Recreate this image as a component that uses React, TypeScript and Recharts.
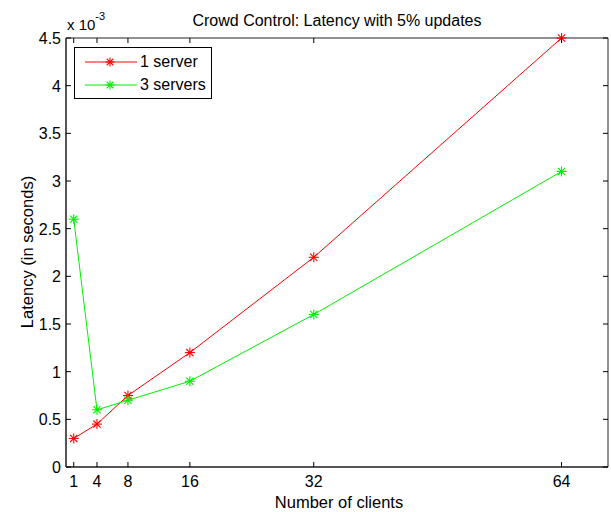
import React from 'react';
import { LineChart, Line, XAxis, YAxis, Legend } from 'recharts';

// Number of clients
const clients = [1, 4, 8, 16, 32, 64];
// Latency in units of 1e-3 seconds
const oneServer = [0.3, 0.45, 0.75, 1.2, 2.2, 4.5];
const threeServers = [2.6, 0.6, 0.7, 0.9, 1.6, 3.1];

const xTicks = [1, 4, 8, 16, 32, 64];
const yTicks = [0, 0.5, 1, 1.5, 2, 2.5, 3, 3.5, 4, 4.5];

const series = [
  { key: 'one', name: '1 server', color: '#ff0000' },
  { key: 'three', name: '3 servers', color: '#00ee00' },
];

const data = clients.map((c, i) => ({ clients: c, one: oneServer[i], three: threeServers[i] }));

const FONT = '"Liberation Sans", Arial, Helvetica, sans-serif';
const W = 611;
const H = 512;
const GAP_Y = 5;
const GAP_X = 8;
const TICK = 5;
// plot box size (chart minus margins and axis sizes)
const PLOT_W = 542;
const PLOT_H = 429;

function Asterisk({ cx, cy, color, r = 5 }: { cx: number; cy: number; color: string; r?: number }) {
  const d = r * 0.72;
  return (
    <g stroke={color} strokeWidth={1.1}>
      <line x1={cx - r} y1={cy} x2={cx + r} y2={cy} />
      <line x1={cx} y1={cy - r} x2={cx} y2={cy + r} />
      <line x1={cx - d} y1={cy - d} x2={cx + d} y2={cy + d} />
      <line x1={cx - d} y1={cy + d} x2={cx + d} y2={cy - d} />
    </g>
  );
}

// left labels + inward ticks on both sides
const LeftTick = (p: any) => {
  const edge = p.x + GAP_Y;
  return (
    <g>
      <line x1={edge} x2={edge + TICK} y1={p.y} y2={p.y} stroke="#000" />
      <line x1={edge + PLOT_W} x2={edge + PLOT_W - TICK} y1={p.y} y2={p.y} stroke="#000" />
      <text x={p.x} y={p.y} dy={6} textAnchor="end" fontSize={16} fontFamily={FONT} fill="#000">
        {String(p.payload.value)}
      </text>
    </g>
  );
};

// bottom labels + inward ticks on bottom and top
const BottomTick = (p: any) => {
  const edge = p.y - GAP_X;
  return (
    <g>
      <line x1={p.x} x2={p.x} y1={edge} y2={edge - TICK} stroke="#000" />
      <line x1={p.x} x2={p.x} y1={edge - PLOT_H} y2={edge - PLOT_H + TICK} stroke="#000" />
      <text x={p.x} y={p.y} dy={12} textAnchor="middle" fontSize={16} fontFamily={FONT} fill="#000">
        {String(p.payload.value)}
      </text>
    </g>
  );
};

const LegendBox = () => (
  <div
    style={{
      width: 136,
      height: 50,
      border: '1px solid #000',
      background: '#fff',
      fontFamily: FONT,
      fontSize: 16,
      position: 'relative',
    }}
  >
    {series.map((s, i) => (
      <div key={s.key} style={{ position: 'absolute', left: 0, top: 2 + i * 23, height: 24, display: 'flex', alignItems: 'center' }}>
        <svg width={64} height={24}>
          <line x1={10} x2={62} y1={12} y2={12} stroke={s.color} strokeWidth={1} />
          <Asterisk cx={35} cy={12} color={s.color} r={4.5} />
        </svg>
        <span style={{ color: '#000', marginLeft: 1 }}>{s.name}</span>
      </div>
    ))}
  </div>
);

export default function App() {
  return (
    <div style={{ position: 'absolute', left: 0, top: 0, width: W, height: H, background: '#fff' }}>
      <LineChart width={W} height={H} data={data} margin={{ top: 37, right: 2, left: 0, bottom: 0 }}>
        <XAxis
          dataKey="clients"
          type="number"
          domain={[0, 70]}
          ticks={xTicks}
          height={45}
          tickSize={0}
          tickMargin={GAP_X}
          tickLine={false}
          axisLine={{ stroke: '#555', strokeWidth: 2 }}
          tick={(p: any) => <BottomTick {...p} />}
          interval={0}
        />
        <XAxis
          xAxisId="top"
          dataKey="clients"
          type="number"
          orientation="top"
          domain={[0, 70]}
          height={1}
          tickLine={false}
          tick={false}
          axisLine={{ stroke: '#222', strokeWidth: 1 }}
        />
        <YAxis
          type="number"
          domain={[0, 4.5]}
          ticks={yTicks}
          width={66}
          tickSize={0}
          tickMargin={GAP_Y}
          tickLine={false}
          axisLine={{ stroke: '#555', strokeWidth: 2 }}
          tick={(p: any) => <LeftTick {...p} />}
          interval={0}
        />
        <YAxis
          yAxisId="right"
          type="number"
          orientation="right"
          domain={[0, 4.5]}
          width={1}
          tickLine={false}
          tick={false}
          axisLine={{ stroke: '#222', strokeWidth: 1 }}
        />
        <Legend
          layout="horizontal"
          verticalAlign="middle"
          align="center"
          wrapperStyle={{ position: 'absolute', left: 74, top: 47, width: 138, height: 52 }}
          content={() => <LegendBox />}
        />
        {series.map((s) => (
          <Line
            key={s.key}
            dataKey={s.key}
            name={s.name}
            type="linear"
            stroke={s.color}
            strokeWidth={1}
            isAnimationActive={false}
            dot={(p: any) => <Asterisk key={`${s.key}-${p.index}`} cx={p.cx} cy={p.cy} color={s.color} />}
            activeDot={false}
          />
        ))}
      </LineChart>
      <svg width={W} height={H} style={{ position: 'absolute', left: 0, top: 0, pointerEvents: 'none' }}>
        <text x={337} y={26} textAnchor="middle" fontSize={16} fontFamily={FONT} fill="#000">
          Crowd Control: Latency with 5% updates
        </text>
        <text x={67} y={30} fontSize={15} fontFamily={FONT} fill="#000">
          x 10
          <tspan fontSize={11} dy={-10}>-3</tspan>
        </text>
        <text x={339} y={508} textAnchor="middle" fontSize={16.5} fontFamily={FONT} fill="#000">
          Number of clients
        </text>
        <text
          x={33}
          y={252}
          textAnchor="middle"
          fontSize={16.5}
          fontFamily={FONT}
          fill="#000"
          transform="rotate(-90 33 252)"
        >
          Latency (in seconds)
        </text>
      </svg>
    </div>
  );
}
